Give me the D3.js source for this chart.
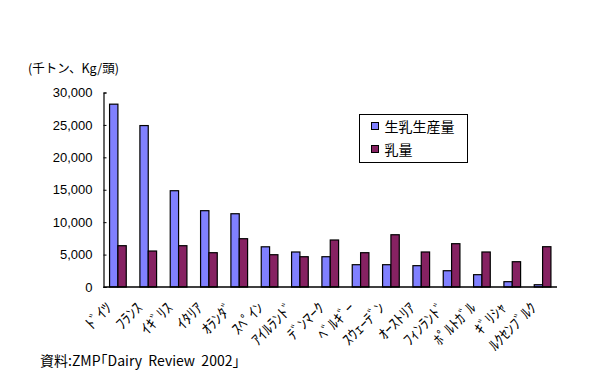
<!DOCTYPE html>
<html lang="ja">
<head>
<meta charset="UTF-8">
<title>生乳生産量と乳量</title>
<script src="https://d3js.org/d3.v7.min.js"></script>
<style>
  body { margin: 0; background: #fff; }
  text { font-family: "Liberation Sans", Arial, sans-serif; }
  .jp { font-family: "Noto Sans CJK JP", sans-serif; }
</style>
</head>
<body>
<svg id="main" width="608" height="385"></svg>
<script>
    // values
    const countries = ["ﾄﾞｲﾂ", "ﾌﾗﾝｽ", "ｲｷﾞﾘｽ", "ｲﾀﾘｱ", "ｵﾗﾝﾀﾞ", "ｽﾍﾟｲﾝ", "ｱｲﾙﾗﾝﾄﾞ", "ﾃﾞﾝﾏｰｸ",
        "ﾍﾞﾙｷﾞｰ", "ｽｳｪｰﾃﾞﾝ", "ｵｰｽﾄﾘｱ", "ﾌｨﾝﾗﾝﾄﾞ", "ﾎﾟﾙﾄｶﾞﾙ", "ｷﾞﾘｼｬ", "ﾙｸｾﾝﾌﾞﾙｸ"];
    const milkProduction = [28200, 24900, 14850, 11770, 11300, 6200, 5400, 4670,
        3440, 3440, 3290, 2510, 1900, 820, 350];
    const milkYield = [6370, 5550, 6370, 5290, 7450, 4980, 4670, 7250,
        5290, 8060, 5400, 6680, 5400, 3900, 6215];
    const seriesNames = ["生乳生産量", "乳量"];
    const yTicks = [0, 5000, 10000, 15000, 20000, 25000, 30000];

    const colors = ["#8080ff", "#862262"];

    let svg = d3.select("svg#main");

    let x = d3.scaleBand().domain(countries).range([103.5, 557]).paddingInner(0.45).paddingOuter(0.2);
    let xs = d3.scaleBand().domain([0, 1]).range([0, x.bandwidth()]);
    let y = d3.scaleLinear().domain([0, 30000]).range([287, 92.5]);

    // bars
    let data = countries.map((c, i) => ({c: c, v: [milkProduction[i], milkYield[i]]}));
    let groups = svg.selectAll("g.cat")
        .data(data)
        .enter()
        .append("g")
        .attr("class", "cat")
        .attr("transform", d => "translate(" + x(d.c) + ",0)");

    groups.selectAll("rect")
        .data(d => d.v)
        .enter()
        .append("rect")
        .attr("x", (d, i) => xs(i))
        .attr("y", d => y(d))
        .attr("width", xs.bandwidth())
        .attr("height", d => y(0) - y(d))
        .attr("fill", (d, i) => colors[i])
        .attr("stroke", "#000")
        .attr("stroke-width", 1.2);

    // y axis
    let yAxis = d3.axisLeft(y).tickValues(yTicks).tickSize(-3).tickPadding(11)
        .tickFormat(d3.format(","));
    let ya = svg.append("g").attr("transform", "translate(103.5,0)").call(yAxis);
    ya.select(".domain").attr("stroke-width", 1.2);
    ya.selectAll("text").attr("font-size", 13).attr("fill", "#000")
        .style("font-family", "'Liberation Sans', Arial, sans-serif");

    // x axis line
    svg.append("line")
        .attr("x1", 103.5).attr("x2", 557)
        .attr("y1", y(0)).attr("y2", y(0))
        .attr("stroke", "#000").attr("stroke-width", 1.5);

    // category labels
    svg.selectAll("text.cat")
        .data(countries)
        .enter()
        .append("text")
        .attr("class", "cat jp")
        .attr("text-anchor", "end")
        .attr("font-size", 15)
        .attr("transform", d => "translate(" + (x(d) + x.bandwidth() / 2 - 5) + ",309) rotate(-45)")
        .text(d => d);

    // unit label
    svg.append("text").attr("class", "jp")
        .attr("x", 28).attr("y", 73).attr("font-size", 12.5)
        .text("(千トン、Kg/頭)");

    // source
    svg.append("text").attr("class", "jp")
        .attr("x", 40).attr("y", 366).attr("font-size", 14)
        .attr("xml:space", "preserve")
        .text("資料:ZMP｢Dairy  Review  2002｣");

    // legend
    let lg = svg.append("g").attr("transform", "translate(359.5,114.5)");
    lg.append("rect").attr("width", 108).attr("height", 48)
        .attr("fill", "#fff").attr("stroke", "#000").attr("stroke-width", 1);
    seriesNames.forEach((s, i) => {
        lg.append("rect")
            .attr("x", 12).attr("y", 8 + i * 23)
            .attr("width", 7).attr("height", 7)
            .attr("fill", colors[i]).attr("stroke", "#000");
        lg.append("text").attr("class", "jp")
            .attr("x", 25).attr("y", 17 + i * 23)
            .attr("font-size", 14)
            .text(s);
    });
</script>
</body>
</html>
